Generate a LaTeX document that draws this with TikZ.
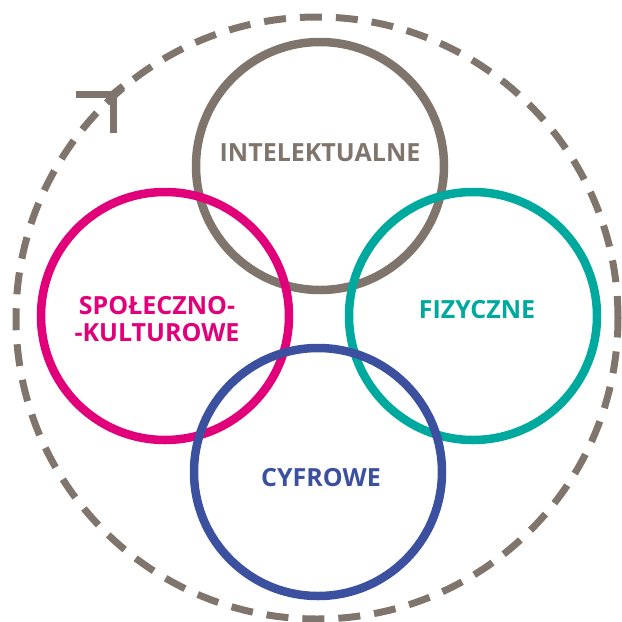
\documentclass[tikz,border=0pt]{standalone}
\usepackage{fontspec}
\setmainfont{Open Sans}
\usepackage{tikz}

\definecolor{ringgray}{HTML}{7F756C}
\definecolor{ringpink}{HTML}{E2007A}
\definecolor{ringteal}{HTML}{00A99D}
\definecolor{ringblue}{HTML}{3C50A0}

\tikzset{
  ring/.style={shape=circle, draw=#1, line width=8.5pt, minimum size=248pt, inner sep=0pt},
  tag/.style={text=#1, font=\bfseries\fontsize{25}{27}\selectfont, align=center, inner sep=0pt},
}

\begin{document}
\begin{tikzpicture}[x=1pt,y=-1pt]
    \useasboundingbox (0,0) rectangle (622,622);

    \node[shape=circle, draw=ringgray, line width=7pt, dash pattern=on 22pt off 14pt,
          minimum size=602pt, inner sep=0pt] (outer) at (317,318) {};

    \node[ring=ringgray] (intel) at (320,166) {};
    \node[ring=ringpink] (spol) at (165,316) {};
    \node[ring=ringteal] (fiz) at (473,316) {};
    \node[ring=ringblue] (cyf) at (318,472) {};

    \node[tag=ringgray] (intelT) at (320,153) {INTELEKTUALNE};
    \node[tag=ringpink] (spolT) at (157,319) {SPOŁECZNO-\\-KULTUROWE};
    \node[tag=ringteal] (fizT) at (477,310) {FIZYCZNE};
    \node[tag=ringblue] (cyfT) at (321,478) {CYFROWE};

    % mark on the outer ring
    \coordinate (corner) at (113,94);
    \coordinate (armL) at (76,94);
    \coordinate (armD) at (113,133);
    \coordinate (tip) at (123,86);
    \draw[ringgray, line width=7pt] (armL) -- (corner) -- (armD);
    \draw[ringgray, line width=7pt] (corner) -- (tip);

\end{tikzpicture}
\end{document}
